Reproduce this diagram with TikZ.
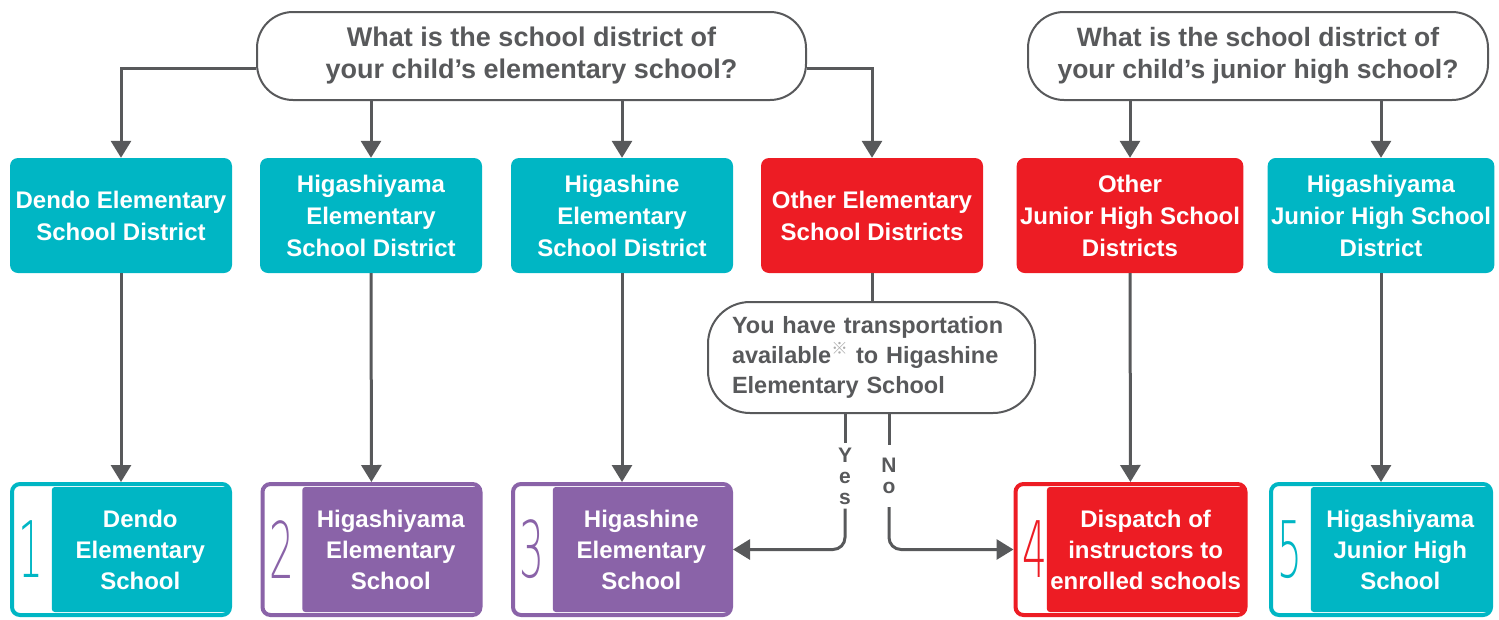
\documentclass[tikz,border=0pt]{standalone}
\usepackage{graphicx}
\usepackage{fontspec}
\setmainfont{Liberation Sans}
\newfontfamily\markfont{Noto Sans CJK JP}
\IfFontExistsTF{DejaVu Sans ExtraLight}{\newfontfamily\numfont{DejaVu Sans ExtraLight}}{\newfontfamily\numfont{DejaVu Sans}}
\usetikzlibrary{arrows.meta,calc}
\definecolor{schoolteal}{RGB}{0,182,196}
\definecolor{schoolred}{RGB}{237,28,36}
\definecolor{schoolpurple}{RGB}{138,99,168}
\definecolor{linegray}{RGB}{88,89,91}
\definecolor{markgray}{RGB}{170,170,170}
\tikzset{
	district/.style={fill=#1, rounded corners=8pt, minimum width=222pt, minimum height=115pt, text=white, align=center, font=\bfseries\fontsize{24}{32}\selectfont},
	question/.style={draw=linegray, line width=2pt, fill=white, rounded corners=36pt, text=linegray, align=center, font=\bfseries\fontsize{27}{32}\selectfont},
	link/.style={draw=linegray, line width=3pt},
	arrow/.style={link, -{Triangle[width=20pt,length=17pt]}},
	resframe/.style={draw=#1, line width=4pt, fill=white, rounded corners=8pt, minimum height=131pt},
	resfill/.style={fill=#1, rounded corners=3pt, minimum height=125pt, text=white, align=center, font=\bfseries\fontsize{24}{31}\selectfont},
	resnum/.style={text=#1, inner sep=0pt, font=\numfont\fontsize{78}{78}\selectfont},
	branch/.style={text=linegray, align=center, font=\bfseries\fontsize{21}{21}\selectfont}
}
% name, centre x, width, colour, number, text
\newcommand{\resultbox}[6]{%
	\node[resframe=#4, minimum width=#3-4] (#1) at (#2,549.5) {};
	\node[resfill=#4, minimum width=#3-45, anchor=east] (#1t) at ($(#1.east)+(-3,0)$) {#6};
	\node[resnum=#4] (#1n) at ($(#1.west)+(21,0)$) {\scalebox{0.5}[1]{#5}};
}
\begin{document}
\begin{tikzpicture}[x=1pt,y=-1pt]
	\useasboundingbox (0,0) rectangle (1499,619);
	% questions
	\node[question, minimum width=549pt, minimum height=88pt] (q1) at (531.5,56) {What is the school district of\\your child’s elementary school?};
	\node[question, minimum width=460pt, minimum height=88pt, font=\bfseries\fontsize{26.5}{32}\selectfont] (q2) at (1258,56) {What is the school district of\\your child’s junior high school?};
	% districts
	\node[district=schoolteal] (d1) at (121,215.5) {Dendo Elementary\\School District};
	\node[district=schoolteal] (d2) at (371,215.5) {Higashiyama\\Elementary\\School District};
	\node[district=schoolteal] (d3) at (622,215.5) {Higashine\\Elementary\\School District};
	\node[district=schoolred] (d4) at (872,215.5) {Other Elementary\\School Districts};
	\node[district=schoolred] (d5) at (1130,215.5) {Other\\Junior High School\\Districts};
	\node[district=schoolteal] (d6) at (1381,215.5) {Higashiyama\\Junior High School\\District};
	\node[question, rounded corners=42pt, minimum width=327pt, minimum height=111pt, text width=279pt, align=left, font=\bfseries\fontsize{23.5}{30}\selectfont] (t) at (871.5,357.5)
		{You have transportation\\available\textsuperscript{\textcolor{markgray}{\markfont\mdseries ※}} to Higashine\\Elementary School};
	% results
	\resultbox{r1}{121}{222}{schoolteal}{1}{Dendo\\Elementary\\School}
	\resultbox{r2}{371.5}{222}{schoolpurple}{2}{Higashiyama\\Elementary\\School}
	\resultbox{r3}{622}{222}{schoolpurple}{3}{Higashine\\Elementary\\School}
	\resultbox{r4}{1130.5}{234}{schoolred}{4}{Dispatch of\\instructors to\\enrolled schools}
	\resultbox{r5}{1381}{224}{schoolteal}{5}{Higashiyama\\Junior High\\School}
	\node[branch, inner ysep=4pt] (yes) at (845,476) {Y\\e\\s};
	\node[branch, inner ysep=13pt] (no) at (889,476) {N\\o};
	% connectors
	\draw[arrow] ($(q1.west)+(0,12)$) -| (d1.north);
	\draw[arrow] (d2.north |- q1.south) -- (d2.north);
	\draw[arrow] (d3.north |- q1.south) -- (d3.north);
	\draw[arrow] ($(q1.east)+(0,12)$) -| (d4.north);
	\draw[arrow] (d5.north |- q2.south) -- (d5.north);
	\draw[arrow] (d6.north |- q2.south) -- (d6.north);
	\draw[arrow] (d1) -- (r1);
	\draw[arrow] (d2) -- (r2);
	\draw[arrow] (d3) -- (r3);
	\draw[arrow] (d5) -- (r4);
	\draw[arrow] (d6) -- (r5);
	\draw[link] (d4.south) -- (d4.south |- t.north);
	\draw[link] (t.south -| yes) -- (yes);
	\draw[link] (t.south -| no) -- (no);
	\draw[arrow, rounded corners=12pt] (yes) |- (r3.east);
	\draw[arrow, rounded corners=12pt] (no) |- (r4.west);
\end{tikzpicture}
\end{document}
